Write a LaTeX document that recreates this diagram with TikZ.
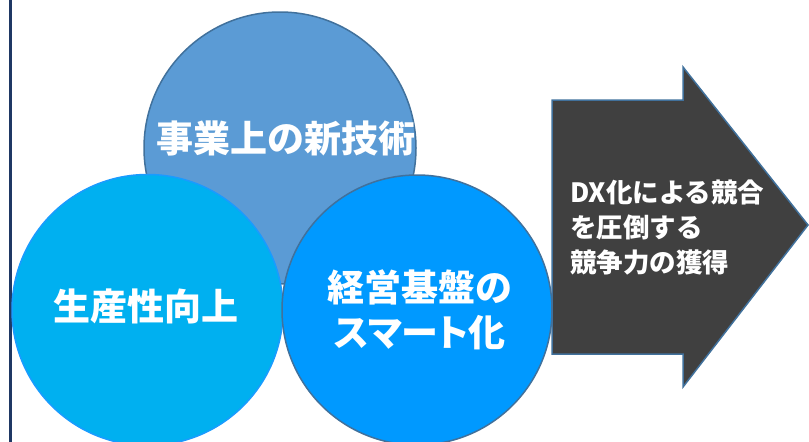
\documentclass[tikz,border=0pt]{standalone}
\usepackage{fontspec}
\newfontfamily\cjk{Noto Sans CJK JP}
\newfontfamily\cjkp{Noto Sans CJK JP}[RawFeature=+palt]
\definecolor{navy}{HTML}{1F3864}
\definecolor{topfill}{HTML}{5B9BD5}
\definecolor{edgeblue}{HTML}{41719C}
\definecolor{leftfill}{HTML}{00B0F0}
\definecolor{leftedge}{HTML}{1A9BFF}
\definecolor{rightfill}{HTML}{0099FF}
\definecolor{arrowfill}{HTML}{404040}
\begin{document}
\begin{tikzpicture}[x=1pt,y=-1pt,
  bubble/.style={circle,inner sep=0pt,minimum size=#1,line width=1.5pt},
  bigtext/.style={text=white,font=\cjk\bfseries\fontsize{37}{45}\selectfont,align=center},
  arrowtext/.style={text=white,font=\cjk\bfseries\fontsize{26.5}{35}\selectfont,align=left,anchor=west,inner sep=0pt}]
\useasboundingbox (0,0) rectangle (809,442);
\draw[navy,line width=3pt] (10.5,0) -- (10.5,442);
\node[bubble=272pt,fill=topfill,draw=edgeblue] (top) at (280,148) {};
\node[bubble=271pt,fill=leftfill,draw=leftedge] (left) at (147.5,310) {};
\node[bubble=270pt,fill=rightfill,draw=edgeblue] (right) at (417,310) {};
\node[bigtext] (toptext) at (286,138) {事業上の新技術};
\node[bigtext] (lefttext) at (146,306) {生産性向上};
\node[bigtext] (righttext) at (420,309.5) {経営基盤の\\{\cjkp\bfseries スマート化}};
\draw[fill=arrowfill,draw=edgeblue,line width=1.5pt,line join=miter]
  (552,100) -- (683,100) -- (683,67) -- (808,225) -- (683,387) -- (683,354) -- (552,354) -- cycle;
\node[arrowtext] (arrowtext) at (570,228) {DX化による競合\\を圧倒する\\競争力の獲得};
\end{tikzpicture}
\end{document}
